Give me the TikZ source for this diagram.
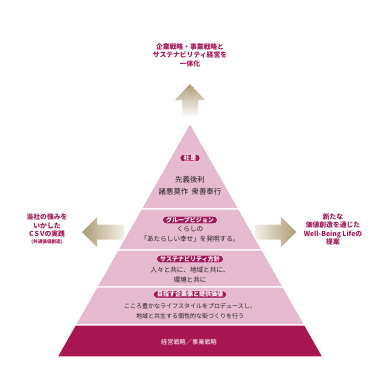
\documentclass[tikz,border=0pt]{standalone}
\usepackage{fontspec}
\setmainfont{Noto Sans CJK JP}
\definecolor{pinkband}{RGB}{229,186,206}
\definecolor{darkband}{RGB}{168,22,82}
\definecolor{mag}{RGB}{163,24,90}
\definecolor{tan}{RGB}{172,156,118}
\definecolor{tanlight}{RGB}{244,240,230}
\definecolor{bodytext}{RGB}{35,30,33}
\tikzset{
  band/.style={fill=pinkband, draw=white, line width=1.2pt},
  pill/.style={fill=mag, draw=white, line width=0.4pt, rounded corners=3.4pt, text=white,
    font=\fontsize{6}{6.5}\selectfont\bfseries, inner xsep=3.5pt, inner ysep=0.8pt},
  body/.style={text=bodytext, align=center, font=\fontsize{6.6}{9.6}\selectfont},
  side/.style={text=mag, align=center, font=\fontsize{6.8}{8.6}\selectfont\bfseries}
}
\newcommand{\hwd}[1]{((#1-123)*0.5684)}
\begin{document}
\begin{tikzpicture}[x=1pt,y=-1pt]
\useasboundingbox (0,0) rectangle (380,364);
% arrows
\shade[top color=tan, bottom color=white] (190,84) -- (205,100) -- (198,100) -- (198,117) -- (182,117) -- (182,100) -- (175,100) -- cycle;
\shade[left color=tan, right color=tanlight] (82,232) -- (97,217) -- (97,224.5) -- (124,224.5) -- (124,239.5) -- (97,239.5) -- (97,247) -- cycle;
\shade[left color=tanlight, right color=tan] (296,232) -- (281,217) -- (281,224.5) -- (255,224.5) -- (255,239.5) -- (281,239.5) -- (281,247) -- cycle;
% pyramid bands
\path[band] (190,123) -- ({190+\hwd{209}},209) -- ({190-\hwd{209}},209) -- cycle;
\path[band] ({190-\hwd{209}},209) -- ({190+\hwd{209}},209) -- ({190+\hwd{250}},250) -- ({190-\hwd{250}},250) -- cycle;
\path[band] ({190-\hwd{250}},250) -- ({190+\hwd{250}},250) -- ({190+\hwd{287}},287) -- ({190-\hwd{287}},287) -- cycle;
\path[band] ({190-\hwd{287}},287) -- ({190+\hwd{287}},287) -- ({190+\hwd{325}},325) -- ({190-\hwd{325}},325) -- cycle;
\path[band, fill=darkband] ({190-\hwd{325}},325) -- ({190+\hwd{325}},325) -- ({190+\hwd{357}},357) -- ({190-\hwd{357}},357) -- cycle;
% texts
\node[side] (top) at (190,55) {企業戦略・事業戦略と\\サステナビリティ経営を\\一体化};
\node[side] (left) at (47,229) {当社の強みを\\いかした\\C\,S\,Vの実践\\[-2.5pt]{\fontsize{4.6}{5}\selectfont (共通価値創造)}};
\node[side] (right) at (333,229.5) {新たな\\価値創造を通じた\\Well-Being Lifeの\\提案};
\node[pill] (p1) at (190,158) {社\,是};
\node[body, font=\fontsize{7.4}{12}\selectfont] (t1) at (190,186) {先義後利\\諸悪莫作\ \ 衆善奉行};
\node[pill] (p2) at (190,220) {グループビジョン};
\node[body] (t2) at (190,234) {くらしの\\「あたらしい幸せ」を発明する。};
\node[pill] (p3) at (190,259) {サステナビリティ方針};
\node[body] (t3) at (190,275) {人々と共に、地域と共に、\\環境と共に};
\node[pill] (p4) at (190,294.5) {目指す企業像と提供価値};
\node[body, font=\fontsize{6}{9.8}\selectfont] (t4) at (190,311) {こころ豊かなライフスタイルをプロデュースし、\\地域と共生する個性的な街づくりを行う};
\node[text=white, font=\fontsize{6.2}{7}\selectfont] (t5) at (189,342.5) {経営戦略／事業戦略};
\end{tikzpicture}
\end{document}
